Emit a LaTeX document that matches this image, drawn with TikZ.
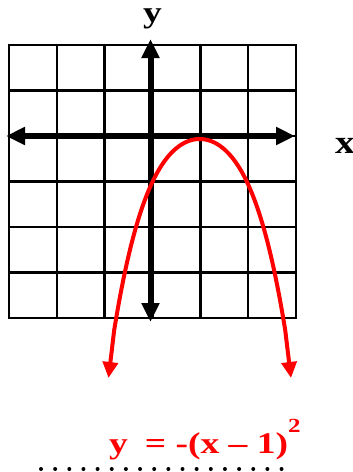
\documentclass[tikz,border=0pt]{standalone}
\usepackage{fontspec}
\setmainfont{Liberation Serif}
\usetikzlibrary{arrows.meta}
\begin{document}
\begin{tikzpicture}[x=1pt,y=-1pt,
  gridline/.style={line width=2.5pt, black},
  axisline/.style={line width=6pt, black, {Triangle[length=19pt,width=17pt]}-{Triangle[length=19pt,width=17pt]}},
  curveline/.style={line width=4pt, red, line join=round, {Triangle[length=16pt,width=15pt]}-{Triangle[length=16pt,width=15pt]}},
  lbl/.style={inner sep=0pt, font=\fontsize{30}{30}\selectfont\bfseries},
  dotmark/.style={fill=black},
]
\useasboundingbox (0,0) rectangle (353,472);
% grid
\foreach \i in {1,...,5} \draw[gridline] ({9+47.83*\i},45) -- ({9+47.83*\i},318);
\foreach \j in {1,...,5} \draw[gridline] (9,{45+45.5*\j}) -- (296,{45+45.5*\j});
\draw[gridline] (9,45) rectangle (296,318);
% axes
\coordinate (xl) at (6,136);
\coordinate (xr) at (295,136);
\coordinate (yt) at (150.5,39);
\coordinate (yb) at (150.5,322);
\draw[axisline] (xl) -- (xr);
\draw[axisline] (yt) -- (yb);
% parabola
\coordinate (tipL) at (108.5,378);
\coordinate (tipR) at (291,378);
\draw[curveline] (tipL) -- plot[domain=-85.5:85.5, samples=91, smooth]
  ({199.7+\x},{139+0.01617*\x*\x+0.01363*(\x/10)^4}) -- (tipR);
% labels
\node[lbl, anchor=base] (ylab) at (152.5,22) {\scalebox{1.25}[1]{y}};
\node[lbl, anchor=base west, font=\fontsize{33}{33}\selectfont\bfseries] (xlab) at (335,153) {\scalebox{1.2}[1]{x}};
\node[lbl, red, anchor=base west] (eq) at (109,453) {\scalebox{1.25}[1]{y\hspace{0.45em}= -(x – 1)\raisebox{21pt}{\fontsize{20}{20}\selectfont 2}}};
% dotted line
\foreach \k in {0,...,17} \fill[dotmark] ({41+14.15*\k},469) circle (2pt);
\end{tikzpicture}
\end{document}
